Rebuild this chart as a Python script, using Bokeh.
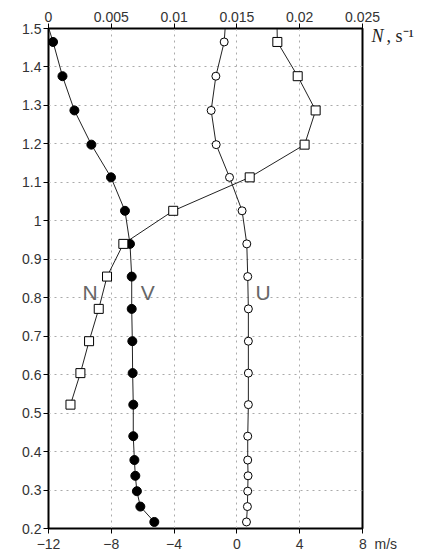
from bokeh.plotting import figure
from bokeh.models import Range1d, LinearAxis, FixedTicker, CustomJSTickFormatter
from bokeh.core.properties import value
from bokeh.embed import file_html
from bokeh.resources import INLINE

# depth levels (y)
depth = [1.465, 1.376, 1.287, 1.198, 1.113, 1.026, 0.940, 0.855, 0.771,
         0.687, 0.604, 0.522, 0.440, 0.378, 0.337, 0.297, 0.257, 0.217]
# V, m/s (filled circles)
V = [-11.71, -11.11, -10.35, -9.27, -8.02, -7.13, -6.81, -6.70, -6.70,
     -6.66, -6.64, -6.60, -6.60, -6.53, -6.47, -6.37, -6.15, -5.26]
# U, m/s (open circles)
U = [-0.81, -1.34, -1.64, -1.32, -0.47, 0.33, 0.63, 0.69, 0.73,
     0.73, 0.73, 0.73, 0.69, 0.69, 0.71, 0.69, 0.67, 0.61]
# N, s^-1 (open squares)
depth_N = [1.465, 1.376, 1.287, 1.198, 1.113, 1.026, 0.940, 0.855, 0.771,
           0.687, 0.604, 0.522]
N = [0.01822, 0.01984, 0.02127, 0.02039, 0.01602, 0.00993, 0.00596,
     0.00466, 0.0040, 0.00323, 0.00254, 0.00175]
# values at the top edge (lines continue to the frame)
top_depth = 1.5
V_top = -11.98
U_top = -0.75
N_top = 0.0182

x_ticks = [-12, -8, -4, 0, 4, 8]
y_ticks = [0.2, 0.3, 0.4, 0.5, 0.6, 0.7, 0.8, 0.9, 1.0, 1.1, 1.2, 1.3, 1.4, 1.5]
n_ticks = [0, 0.005, 0.01, 0.015, 0.02, 0.025]
unit_label_y = [1.48]

p = figure(width=421, height=556, x_range=Range1d(-12, 8), y_range=Range1d(0.2, 1.5),
           output_backend="svg", toolbar_location=None,
           min_border_left=48, min_border_right=59, min_border_top=28, min_border_bottom=28)
p.extra_x_ranges = {"N": Range1d(0, 0.025)}
p.background_fill_color = "white"
p.border_fill_color = "white"
p.outline_line_color = "black"
p.outline_line_width = 2

tick_font = "Liberation Sans"
for ax in (p.xaxis[0], p.yaxis[0]):
    ax.major_label_text_font = tick_font
    ax.major_label_text_font_size = "14px"
    ax.major_label_text_color = "#333333"
    ax.major_tick_in = 0
    ax.major_tick_out = 5
    ax.minor_tick_out = 0
    ax.minor_tick_in = 0
    ax.axis_line_color = "black"
    ax.major_tick_line_color = "black"
    ax.major_label_standoff = 2

p.xaxis[0].ticker = FixedTicker(ticks=x_ticks)
p.xaxis[0].formatter = CustomJSTickFormatter(code="""
if (tick == 8) {
  return "\\u00a0\\u00a0\\u00a0\\u00a0\\u00a0\\u00a0\\u00a0\\u00a08\\u00a0\\u00a0m/s";
}
return tick < 0 ? "\\u2212" + Math.abs(tick) : String(tick);
""")
p.yaxis[0].ticker = FixedTicker(ticks=y_ticks)
p.yaxis[0].formatter = CustomJSTickFormatter(code="""
return String(Math.round(tick*10)/10);
""")

top = LinearAxis(x_range_name="N", ticker=FixedTicker(ticks=n_ticks),
                 formatter=CustomJSTickFormatter(code="return String(Math.round(tick*1000)/1000);"))
top.major_label_text_font = tick_font
top.major_label_text_font_size = "14px"
top.major_label_text_color = "#333333"
top.major_tick_in = 0
top.major_tick_out = 5
top.minor_tick_out = 0
top.minor_tick_in = 0
top.major_label_standoff = 2
p.add_layout(top, "above")

# unit label "N, s^-1" at the right of the top edge, as two stacked right axes
r1 = LinearAxis(ticker=FixedTicker(ticks=unit_label_y),
                formatter=CustomJSTickFormatter(code='return "N";'))
r2 = LinearAxis(ticker=FixedTicker(ticks=unit_label_y),
                formatter=CustomJSTickFormatter(code='return ", s\\u207b\\u00b9";'))
for ax, style, standoff in ((r1, "italic", 9), (r2, "normal", 0)):
    ax.axis_line_color = None
    ax.major_tick_line_color = None
    ax.minor_tick_line_color = None
    ax.major_tick_out = 0
    ax.major_tick_in = 0
    ax.minor_tick_out = 0
    ax.minor_tick_in = 0
    ax.major_label_standoff = standoff
    ax.major_label_text_font = "Liberation Serif"
    ax.major_label_text_font_style = style
    ax.major_label_text_font_size = "18px"
    ax.major_label_text_color = "#222222"
    p.add_layout(ax, "right")

p.xgrid.grid_line_color = "#aaaaaa"
p.xgrid.grid_line_dash = "2 4"
p.ygrid.grid_line_color = "#aaaaaa"
p.ygrid.grid_line_dash = "2 4"

line_col = "#222222"
p.line([V_top] + V, [top_depth] + depth, line_color=line_col, line_width=1)
p.line([U_top] + U, [top_depth] + depth, line_color=line_col, line_width=1)
p.line([N_top] + N, [top_depth] + depth_N, line_color=line_col, line_width=1, x_range_name="N")

p.scatter(V, depth, marker="circle", size=9, fill_color="black", line_color="black")
p.scatter(U, depth, marker="circle", size=8, fill_color="white", line_color="black")
p.scatter(N, depth_N, marker="square", size=9, fill_color="white", line_color="black",
          x_range_name="N")

series_labels = ["N", "V", "U"]
label_x = [-9.84, -6.13, 1.18]
label_y = [0.814, 0.814, 0.814]
p.text(label_x, label_y, text=series_labels, text_font=value("Liberation Sans"),
       text_font_size="21px", text_color="#666666", text_baseline="alphabetic",
       text_align="left")

open("out.html", "w").write(file_html(p, INLINE))
